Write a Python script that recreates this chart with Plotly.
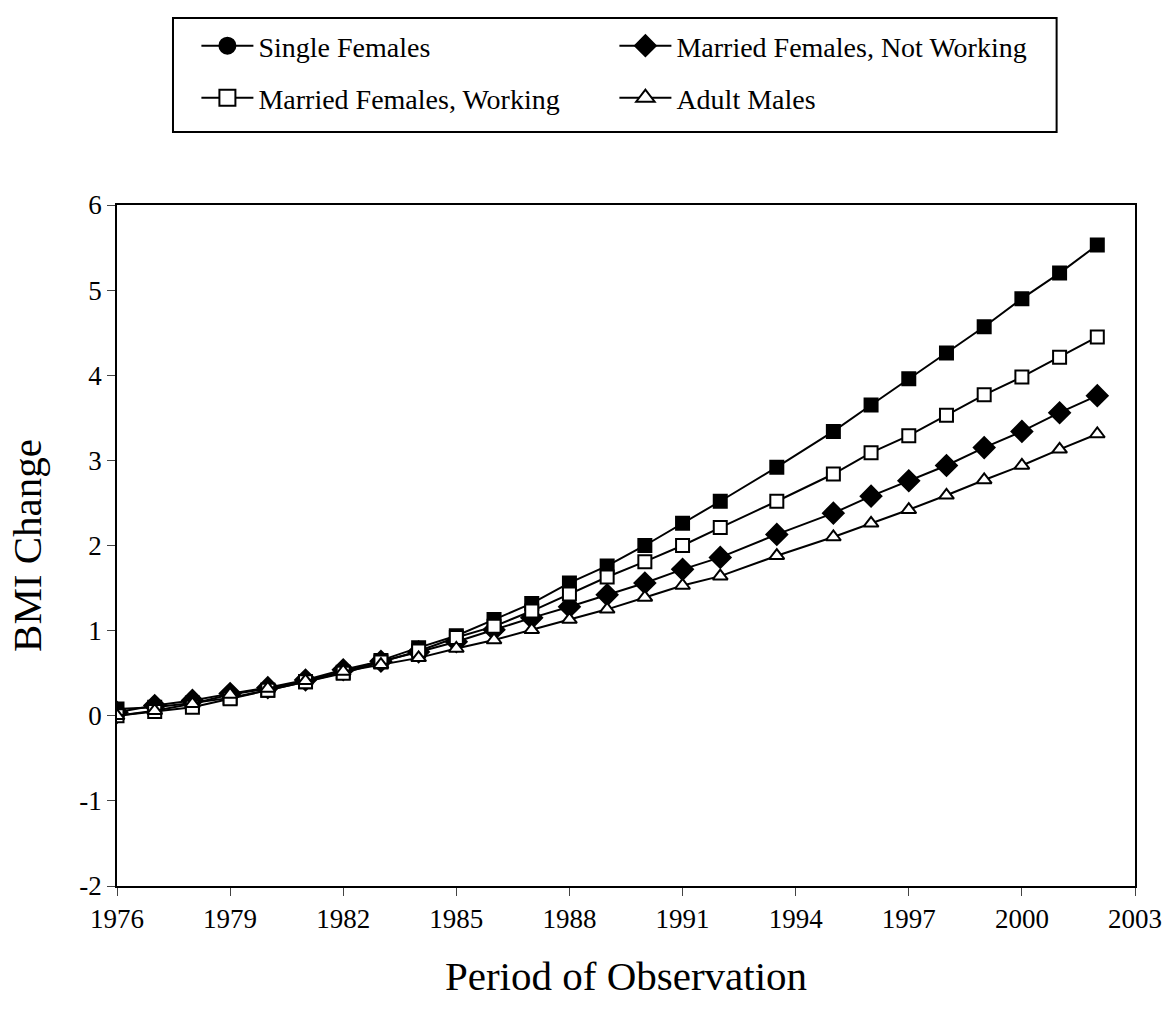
import plotly.graph_objects as go

years = [1976, 1977, 1978, 1979, 1980, 1981, 1982, 1983, 1984, 1985, 1986, 1987, 1988,
         1989, 1990, 1991, 1992, 1993.5, 1995, 1996, 1997, 1998, 1999, 2000, 2001, 2002]

single_females = [0.08, 0.10, 0.15, 0.21, 0.30, 0.40, 0.51, 0.65, 0.80, 0.94, 1.13, 1.32, 1.56,
                  1.76, 2.00, 2.26, 2.52, 2.92, 3.34, 3.65, 3.96, 4.26, 4.57, 4.90, 5.20, 5.53]
married_not_working = [0.04, 0.12, 0.18, 0.26, 0.33, 0.42, 0.54, 0.64, 0.75, 0.87, 1.01, 1.15, 1.28,
                       1.42, 1.56, 1.72, 1.86, 2.13, 2.38, 2.58, 2.76, 2.94, 3.15, 3.34, 3.56, 3.76]
married_working = [0.00, 0.05, 0.10, 0.20, 0.30, 0.40, 0.50, 0.63, 0.76, 0.92, 1.05, 1.23, 1.43,
                   1.63, 1.81, 2.00, 2.21, 2.52, 2.84, 3.09, 3.29, 3.53, 3.77, 3.98, 4.21, 4.45]
adult_males = [0.00, 0.06, 0.14, 0.25, 0.32, 0.41, 0.52, 0.60, 0.68, 0.79, 0.89, 1.01, 1.13,
               1.25, 1.39, 1.53, 1.64, 1.88, 2.10, 2.26, 2.42, 2.59, 2.77, 2.94, 3.13, 3.31]

x_ticks = [1976, 1979, 1982, 1985, 1988, 1991, 1994, 1997, 2000, 2003]
y_ticks = [-2, -1, 0, 1, 2, 3, 4, 5, 6]
y_labels = ["-2", "-1", "0", "1", "2", "3", "4", "5", "6"]

# name, values, plot symbol, legend symbol, fill, legend row
series = [
    ("Single Females", single_females, "square", "circle", "black", "legend"),
    ("Married Females, Not Working", married_not_working, "diamond", "diamond", "black", "legend"),
    ("Married Females, Working", married_working, "square", "square", "white", "legend2"),
    ("Adult Males", adult_males, "triangle-up", "triangle-up", "white", "legend2"),
]

font = "Liberation Serif"

fig = go.Figure()

for name, vals, sym, _, fill, _ in series:
    fig.add_trace(go.Scatter(
        x=years, y=vals, mode="lines+markers", name=name, showlegend=False,
        line=dict(color="black", width=2),
        marker=dict(symbol=sym, size=13 if sym != "diamond" else 16, color=fill,
                    line=dict(color="black", width=2)),
    ))

# legend-only entries (plot uses squares for single females, legend shows circles)
for name, _, _, lsym, fill, lg in series:
    fig.add_trace(go.Scatter(
        x=[None], y=[None], mode="lines+markers", name=name, legend=lg,
        line=dict(color="black", width=2),
        marker=dict(symbol=lsym, size=17, color=fill, line=dict(color="black", width=2)),
    ))

leg = dict(orientation="h", x=0.078, xanchor="left", yanchor="middle",
           entrywidth=351, itemwidth=52, bgcolor="rgba(0,0,0,0)", borderwidth=0,
           font=dict(family=font, size=28, color="black"))

fig.update_layout(
    width=1165, height=1021,
    margin=dict(l=117, r=30, t=205, b=135, autoexpand=False),
    paper_bgcolor="white", plot_bgcolor="white",
    font=dict(family=font, size=27, color="black"),
    legend=dict(leg, y=1.2335),
    legend2=dict(leg, y=1.1572),
    shapes=[dict(type="rect", xref="paper", yref="paper", x0=0.055, x1=0.923,
                 y0=1.1072, y1=1.2746, line=dict(color="black", width=2))],
    xaxis=dict(
        range=[1976, 2003], tickvals=x_ticks, ticks="outside", ticklen=8,
        tickfont=dict(family=font, size=27),
        showline=True, linecolor="black", linewidth=1.5, mirror=True,
        showgrid=False, zeroline=False, automargin=False,
        title=dict(text="Period of Observation", font=dict(family=font, size=41), standoff=28),
    ),
    yaxis=dict(
        range=[-2, 6], tickvals=y_ticks, ticktext=y_labels, ticks="outside", ticklen=8,
        tickfont=dict(family=font, size=27),
        showline=True, linecolor="black", linewidth=1.5, mirror=True,
        showgrid=False, zeroline=False, automargin=False,
        title=dict(text="BMI Change", font=dict(family=font, size=41), standoff=25),
    ),
)

# drop the page's default body margin so the figure fills the window exactly
fig.write_html("out.html", config={"displayModeBar": False},
               post_script="document.body.style.margin='0';document.body.style.overflow='hidden';")
